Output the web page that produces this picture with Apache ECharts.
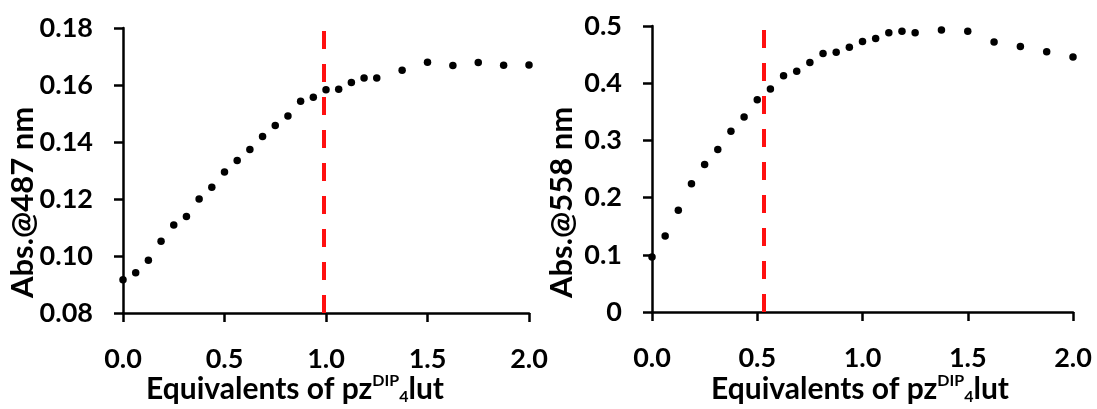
<!DOCTYPE html>
<html>
<head>
<meta charset="utf-8">
<script src="https://cdn.jsdelivr.net/npm/echarts@6/dist/echarts.min.js"></script>
<style>
html,body{margin:0;padding:0;background:#fff;}
#chart{width:1097px;height:409px;}
</style>
</head>
<body>
<div id="chart"></div>
<script>
// Equivalents of pzDIP4lut added
const equivalents = [0, 0.0625, 0.125, 0.1875, 0.25, 0.3125, 0.375, 0.4375, 0.5, 0.5625, 0.625, 0.6875, 0.75, 0.8125, 0.875, 0.9375, 1.0, 1.0625, 1.125, 1.1875, 1.25, 1.375, 1.5, 1.625, 1.75, 1.875, 2.0];
// Absorbance at 487 nm (left panel)
const abs487 = [0.0917, 0.0941, 0.0985, 0.1052, 0.1109, 0.1139, 0.1200, 0.1241, 0.1295, 0.1335, 0.1374, 0.1419, 0.1458, 0.1491, 0.1543, 0.1557, 0.1583, 0.1585, 0.1609, 0.1625, 0.1625, 0.1652, 0.1680, 0.1668, 0.1679, 0.1669, 0.1670];
// Absorbance at 558 nm (right panel)
const abs558 = [0.096, 0.133, 0.178, 0.224, 0.258, 0.284, 0.316, 0.341, 0.371, 0.390, 0.413, 0.421, 0.436, 0.452, 0.454, 0.463, 0.473, 0.478, 0.488, 0.491, 0.488, 0.493, 0.491, 0.472, 0.464, 0.455, 0.446];
// Equivalence points (red dashed lines)
const eqPoint487 = 0.99;
const eqPoint558 = 0.525;
// Axis ranges / ticks
const xRange = [0, 2.0, 0.5];
const yRange487 = [0.08, 0.18, 0.02];
const yRange558 = [0, 0.5, 0.1];
const yTitles = ['Abs.@487 nm', 'Abs.@558 nm'];

const FONT = 'Lato';
const pairs = (xs, ys) => xs.map((x, i) => [x, ys[i]]);

const axisLineStyle = {show: true, lineStyle: {color: '#000', width: 2.5}};
const axisTickStyle = {show: true, inside: false, length: 9, lineStyle: {color: '#000', width: 2.5}};
const labelStyle = {color: '#000', fontFamily: FONT, fontWeight: 'bold', fontSize: 27};

function xAxisDef(gi) {
  return {
    type: 'value', gridIndex: gi, min: xRange[0], max: xRange[1], interval: xRange[2],
    axisLine: axisLineStyle, axisTick: axisTickStyle, splitLine: {show: false},
    axisLabel: Object.assign({margin: 33, formatter: v => v.toFixed(1)}, labelStyle)
  };
}
function yAxisDef(gi, r, fmt) {
  return {
    type: 'value', gridIndex: gi, min: r[0], max: r[1], interval: r[2],
    axisLine: axisLineStyle, axisTick: axisTickStyle, splitLine: {show: false},
    axisLabel: Object.assign({margin: 30, formatter: fmt}, labelStyle)
  };
}
function eqLine(x) {
  return {
    silent: true, symbol: ['none', 'none'], label: {show: false},
    lineStyle: {color: '#ff1010', width: 4, type: [18, 15], opacity: 1},
    emphasis: {disabled: true},
    data: [{xAxis: x}]
  };
}

const titleRich = {
  a: {fontFamily: FONT, fontWeight: 'bold', fontSize: 30, fill: '#000', color: '#000'},
  s: {fontFamily: FONT, fontWeight: 'bold', fontSize: 16, fill: '#000', color: '#000', padding: [0, 0, 16, 0]},
  b: {fontFamily: FONT, fontWeight: 'bold', fontSize: 16, fill: '#000', color: '#000', padding: [16, 0, 0, 0]}
};
const xTitleText = '{a|Equivalents of pz}{s|DIP}{b|4}{a|lut}';

const chart = echarts.init(document.getElementById('chart'), null, {renderer: 'canvas'});
chart.setOption({
  animation: false,
  backgroundColor: '#fff',
  grid: [
    {left: 123, top: 28, width: 406, height: 285},
    {left: 652, top: 26, width: 421, height: 286}
  ],
  xAxis: [xAxisDef(0), xAxisDef(1)],
  yAxis: [
    yAxisDef(0, yRange487, v => v.toFixed(2)),
    yAxisDef(1, yRange558, v => (v === 0 ? '0' : v.toFixed(1)))
  ],
  series: [
    {type: 'scatter', xAxisIndex: 0, yAxisIndex: 0, symbolSize: 7.5, itemStyle: {color: '#000', opacity: 1},
     data: pairs(equivalents, abs487), markLine: eqLine(eqPoint487)},
    {type: 'scatter', xAxisIndex: 1, yAxisIndex: 1, symbolSize: 7.5, itemStyle: {color: '#000', opacity: 1},
     data: pairs(equivalents, abs558), markLine: eqLine(eqPoint558)}
  ],
  graphic: [
    {type: 'text', x: 23, y: 298, rotation: Math.PI / 2,
     style: {text: yTitles[0], fill: '#000', font: 'bold 31px ' + FONT, align: 'left', verticalAlign: 'middle'}},
    {type: 'text', x: 562, y: 298, rotation: Math.PI / 2,
     style: {text: yTitles[1], fill: '#000', font: 'bold 31px ' + FONT, align: 'left', verticalAlign: 'middle'}},
    {type: 'text', x: 295, y: 389,
     style: {text: xTitleText, rich: titleRich, align: 'center', verticalAlign: 'middle', fill: '#000'}},
    {type: 'text', x: 860, y: 389,
     style: {text: xTitleText, rich: titleRich, align: 'center', verticalAlign: 'middle', fill: '#000'}}
  ]
});
</script>
</body>
</html>
